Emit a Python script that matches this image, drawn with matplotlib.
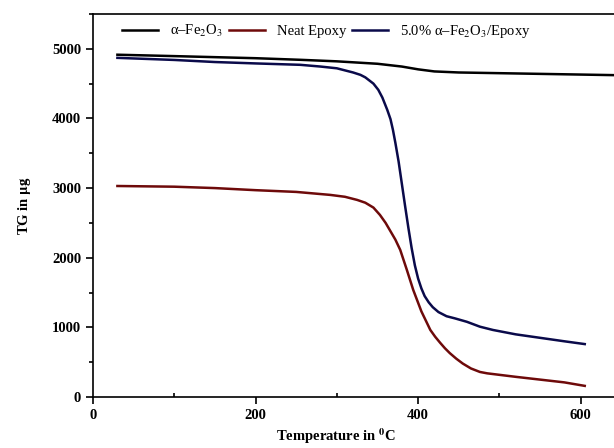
import matplotlib
matplotlib.use('Agg')
import matplotlib.pyplot as plt
from matplotlib.ticker import MultipleLocator

plt.rcParams['font.family'] = 'Liberation Serif'
plt.rcParams['mathtext.fontset'] = 'stix'

# alpha-Fe2O3
t_fe = [30, 100, 200, 255, 300, 350, 380, 400, 420, 450, 500, 550, 600, 650]
w_fe = [4915, 4895, 4865, 4842, 4820, 4785, 4745, 4705, 4675, 4660, 4650, 4640, 4630, 4620]

# neat epoxy
t_ep = [30, 100, 150, 200, 250, 292, 310, 325, 335, 345, 353, 360, 365, 372, 378, 386,
        394, 404, 415, 421, 427, 433, 439, 447, 455, 465, 476, 485, 492, 520, 550, 580, 605]
w_ep = [3030, 3020, 3000, 2970, 2945, 2902, 2875, 2830, 2790, 2720, 2615, 2500, 2400,
        2260, 2112, 1830, 1537, 1230, 963, 865, 780, 700, 630, 550, 480, 410, 360, 340,
        330, 290, 250, 210, 160]

# 5.0% alpha-Fe2O3/epoxy
t_cp = [30, 100, 150, 200, 255, 280, 300, 310, 320, 329, 335, 345, 351, 356, 362, 366,
        369, 372, 376, 380, 384, 388, 392, 396, 400, 404, 408, 413, 418, 425, 435, 445,
        460, 476, 492, 520, 550, 580, 605]
w_cp = [4870, 4840, 4810, 4790, 4770, 4745, 4720, 4690, 4660, 4626, 4590, 4500, 4411,
        4300, 4124, 3990, 3836, 3650, 3380, 3060, 2740, 2430, 2140, 1890, 1700, 1560,
        1450, 1360, 1290, 1220, 1160, 1130, 1080, 1010, 963, 900, 850, 800, 760]

fig = plt.figure(figsize=(6.14, 4.48), dpi=100)
ax = fig.add_axes([0.1515, 0.1138, 0.8485, 0.855])

ax.plot(t_fe, w_fe, color='black', lw=1.8, label='α–Fe$_2$O$_3$')
ax.plot(t_ep, w_ep, color='#6e0a0a', lw=1.8, label='Neat Epoxy')
ax.plot(t_cp, w_cp, color='#0a0a4a', lw=1.8, label='5.0% α–Fe$_2$O$_3$/Epoxy')

ax.set_xlim(0, 641)
ax.set_ylim(0, 5500)
ax.xaxis.set_major_locator(MultipleLocator(200))
ax.xaxis.set_minor_locator(MultipleLocator(100))
ax.yaxis.set_major_locator(MultipleLocator(1000))
ax.yaxis.set_minor_locator(MultipleLocator(500))
ax.tick_params(which='both', direction='out', width=1.2, labelsize=10.5)
ax.tick_params(which='major', length=5)
ax.tick_params(which='minor', length=3)
ax.tick_params(axis='x', which='minor', direction='in')
for lbl in ax.get_xticklabels() + ax.get_yticklabels():
    lbl.set_fontweight('bold')

ax.spines['right'].set_visible(False)
for s in ['left', 'bottom', 'top']:
    ax.spines[s].set_linewidth(1.2)

fig.text(0.547, 0.026, r'Temperature in $^{\mathbf{0}}$C', fontweight='bold', fontsize=10.5,
         ha='center', va='center')
ax.set_ylabel(r'TG in $\mathbf{\mu}$g', fontweight='bold', fontsize=10.5, labelpad=14)

ax.legend(loc='upper left', bbox_to_anchor=(0.03, 1.01), ncol=3, frameon=False,
          fontsize=10.5, handlelength=2.5, columnspacing=0.4, handletextpad=0.8)

fig.savefig('out.png', dpi=100)
